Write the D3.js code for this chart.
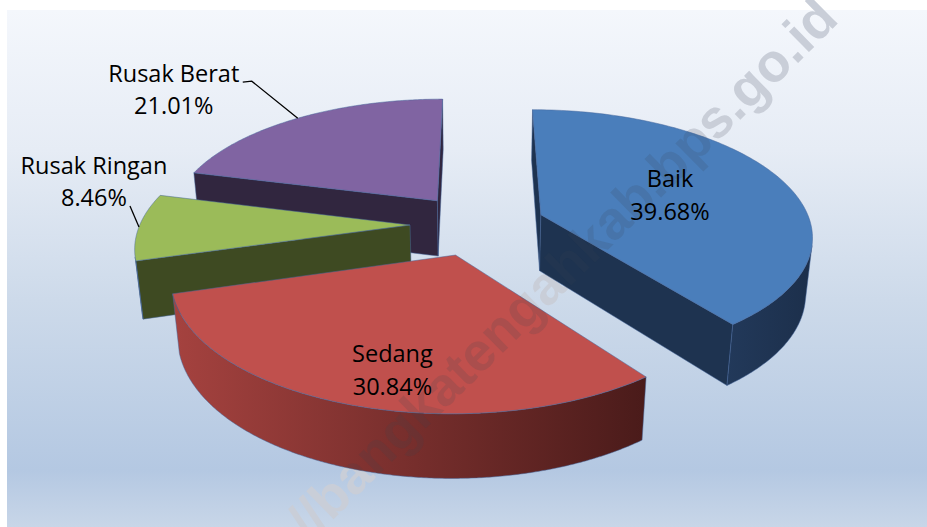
<!DOCTYPE html>
<html>
<head>
<meta charset="utf-8">
<script src="https://cdn.jsdelivr.net/npm/d3@7"></script>
<style>
  body { margin: 0; background: #fff; }
  svg text { font-family: "Open Sans", sans-serif; }
</style>
</head>
<body>
<div id="chart"></div>
<script>
// data
const categories = ["Baik", "Sedang", "Rusak Ringan", "Rusak Berat"];
const shares = [39.68, 30.84, 8.46, 21.01];
const shareLabels = ["39.68%", "30.84%", "8.46%", "21.01%"];

// colours (top face, wall light/dark, cut faces)
const topColors = ["#4a7ebb", "#c0504d", "#9bbb59", "#8064a2"];
const wallLight = ["#22395a", "#a5423f", "#4a5a29", "#3a2d4a"];
const wallDark = ["#1c2f4b", "#4a1b1a", "#37421e", "#2c2238"];
const cutColors = ["#1e3350", "#6e2a28", "#3e4a22", "#31263f"];

const width = 927;
const height = 527;

// 3d camera, pie radius = 1 world unit
const cam = { D: 5.8, phi: 29.4 * Math.PI / 180, F: 1535, cx: 477.6, cy: 281 };
const thick = 0.24;
const explode = 0.25;

const sinP = Math.sin(cam.phi), cosP = Math.cos(cam.phi);
const camPos = [0, cam.D * sinP, cam.D * cosP];

const px = d3.scaleLinear().domain([0, 1]).range([cam.cx, cam.cx + cam.F]);
const py = d3.scaleLinear().domain([0, 1]).range([cam.cy, cam.cy - cam.F]);

function project(p) {
  const dist = cam.D - (p[1] * sinP + p[2] * cosP);
  const up = p[1] * cosP - p[2] * sinP;
  return [px(p[0] / dist), py(up / dist)];
}
function dir(a) { return [Math.sin(a), 0, -Math.cos(a)]; }
function facing(n, p) {
  return n[0] * (camPos[0] - p[0]) + n[1] * (camPos[1] - p[1]) + n[2] * (camPos[2] - p[2]) > 0;
}

const svg = d3.select("#chart").append("svg")
  .attr("width", width)
  .attr("height", height);

const defs = svg.append("defs");

// plot background
const bg = defs.append("linearGradient").attr("id", "bg")
  .attr("x1", 0).attr("y1", 0).attr("x2", 0).attr("y2", 1);
[[0, "#f4f7fc"], [0.27, "#e6ecf5"], [0.56, "#cddaea"], [0.89, "#b4c8e2"], [1, "#c8d6e8"]]
  .forEach(s => bg.append("stop").attr("offset", s[0]).attr("stop-color", s[1]));

svg.append("rect")
  .attr("x", 7).attr("y", 10)
  .attr("width", width - 7).attr("height", height - 10)
  .attr("fill", "url(#bg)");

const watermark = "//bangkatengahkab.bps.go.id";
const wmX = 575, wmY = 282;

function drawWatermark(parent, fill, opacity) {
  parent.append("text")
    .attr("transform", `translate(${wmX},${wmY}) rotate(-44.5)`)
    .attr("text-anchor", "middle")
    .style("font-family", "'Liberation Sans', Arial, sans-serif")
    .style("font-weight", "bold")
    .style("font-size", "54px")
    .attr("fill", fill)
    .attr("fill-opacity", opacity)
    .text(watermark);
}
drawWatermark(svg, "#c9ced8", 1);

// pie layout
const arcs = d3.pie().sort(null).value(d => d)(shares);
const slices = arcs.map((a, i) => {
  const mid = (a.startAngle + a.endAngle) / 2;
  const d = dir(mid);
  return { i, a0: a.startAngle, a1: a.endAngle, mid, o: [d[0] * explode, 0, d[2] * explode] };
});

function rim(s, ang, y, r = 1) {
  const d = dir(ang);
  return [s.o[0] + r * d[0], y, s.o[2] + r * d[2]];
}
const line = d3.line();
function poly(pts) { return line(pts.map(project)) + "Z"; }

const pieG = svg.append("g").attr("class", "pie");
const mask = defs.append("mask").attr("id", "sliceMask")
  .attr("maskUnits", "userSpaceOnUse")
  .attr("x", 0).attr("y", 0).attr("width", width).attr("height", height);

function face(d, fill) {
  pieG.append("path")
    .attr("d", d)
    .attr("fill", fill)
    .attr("stroke", "#46669c")
    .attr("stroke-width", 0.7)
    .attr("stroke-opacity", 0.7)
    .attr("stroke-linejoin", "round");
  mask.append("path").attr("d", d).attr("fill", "#fff");
}

// back slices first
const order = slices.slice().sort((a, b) => a.o[2] - b.o[2]);

order.forEach(s => {
  const apexB = [s.o[0], 0, s.o[2]];
  const apexT = [s.o[0], thick, s.o[2]];

  // cut faces
  [[s.a0, s.a0 - Math.PI / 2], [s.a1, s.a1 + Math.PI / 2]].forEach(([ang, nAng]) => {
    const m = rim(s, ang, thick / 2, 0.5);
    if (facing(dir(nAng), m)) {
      face(poly([apexB, apexT, rim(s, ang, thick), rim(s, ang, 0)]), cutColors[s.i]);
    }
  });

  // curved wall, visible runs only
  const n = 240;
  const runs = [];
  let run = null;
  for (let k = 0; k <= n; k++) {
    const ang = s.a0 + (s.a1 - s.a0) * k / n;
    if (facing(dir(ang), rim(s, ang, thick / 2))) {
      if (!run) { run = []; runs.push(run); }
      run.push(ang);
    } else run = null;
  }
  runs.forEach((r, j) => {
    if (r.length < 2) return;
    const topPts = r.map(a => rim(s, a, thick));
    const botPts = r.map(a => rim(s, a, 0)).reverse();
    const xs = topPts.concat(botPts).map(p => project(p)[0]);
    const gid = `wall${s.i}_${j}`;
    const g = defs.append("linearGradient").attr("id", gid)
      .attr("gradientUnits", "userSpaceOnUse")
      .attr("x1", d3.min(xs)).attr("x2", d3.max(xs)).attr("y1", 0).attr("y2", 0);
    g.append("stop").attr("offset", 0).attr("stop-color", wallLight[s.i]);
    g.append("stop").attr("offset", 1).attr("stop-color", wallDark[s.i]);
    face(poly(topPts.concat(botPts)), `url(#${gid})`);
  });

  // top face
  const topRim = d3.range(0, 121).map(k => rim(s, s.a0 + (s.a1 - s.a0) * k / 120, thick));
  face(poly([apexT].concat(topRim)), topColors[s.i]);
});

// watermark tint over slices (mask applied on an untransformed group)
drawWatermark(svg.append("g").attr("mask", "url(#sliceMask)"), "#3a4252", 0.16);

// data labels
const labelLayout = [
  { inside: true, angle: 0, rho: 0.53 },
  { inside: true, angle: -4.4, rho: 0.78 },
  { inside: false, dx: -45, dy1: -53, dy2: -20.5, leader: [[-9, -21]] },
  { inside: false, dx: -124, dy1: -36.5, dy2: -4, leader: [[-46, -37], [-55, -36]] }
];

const labelG = svg.append("g").attr("class", "labels");

slices.forEach(s => {
  const L = labelLayout[s.i];
  let x, y1, y2;
  if (L.inside) {
    const ang = s.mid + L.angle * Math.PI / 180;
    const p = project(rim(s, ang, thick, L.rho));
    x = p[0]; y1 = p[1] - 7.8; y2 = p[1] + 24.8;
  } else {
    const p = project(rim(s, s.mid, thick));
    x = p[0] + L.dx; y1 = p[1] + L.dy1; y2 = p[1] + L.dy2;
    const pts = [p].concat(L.leader.map(q => [p[0] + q[0], p[1] + q[1]]));
    labelG.append("path")
      .attr("d", d3.line()(pts))
      .attr("fill", "none")
      .attr("stroke", "#000")
      .attr("stroke-width", 1.3);
  }
  const t = labelG.append("text")
    .attr("text-anchor", "middle")
    .attr("fill", "#000")
    .style("font-size", "23.5px");
  t.append("tspan").attr("x", x).attr("y", y1).text(categories[s.i]);
  t.append("tspan").attr("x", x).attr("y", y2).text(shareLabels[s.i]);
});
</script>
</body>
</html>
